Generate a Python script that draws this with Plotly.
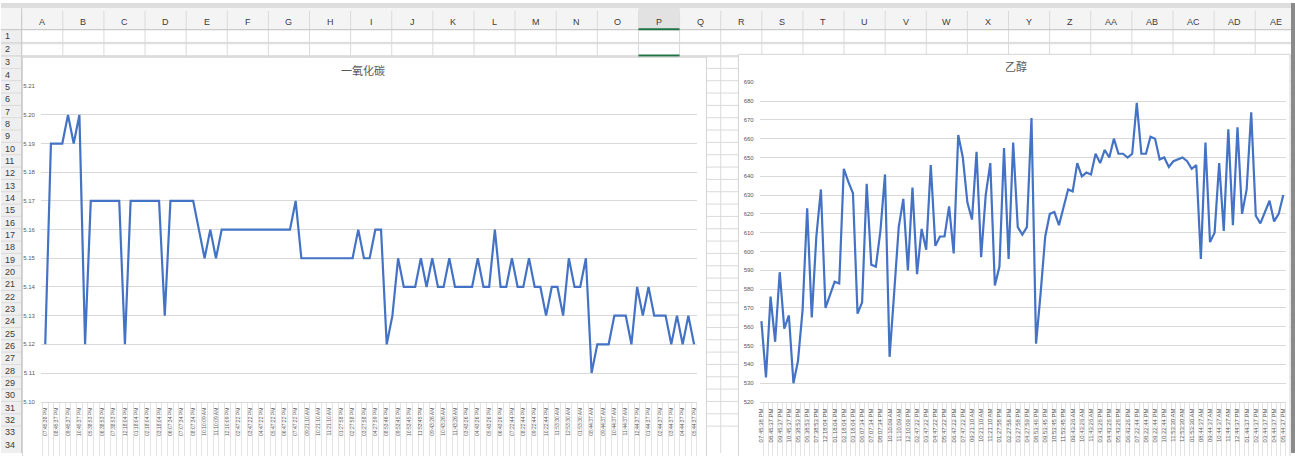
import plotly.graph_objects as go

W, H = 1295, 456

# ---------------- data ----------------
time_labels = [
    "07:45:38 PM", "08:45:37 PM", "09:45:37 PM", "10:45:37 PM", "05:38:53 PM", "06:38:53 PM",
    "07:38:53 PM", "12:18:04 PM", "01:18:04 PM", "02:18:04 PM", "03:18:04 PM", "06:07:34 PM",
    "07:07:34 PM", "08:07:34 PM", "10:10:09 AM", "11:10:09 AM", "12:10:09 PM", "02:47:22 PM",
    "03:47:22 PM", "04:47:22 PM", "05:47:22 PM", "06:47:22 PM", "07:47:22 PM", "09:21:10 AM",
    "10:21:10 AM", "11:21:10 AM", "01:27:58 PM", "02:27:58 PM", "03:27:58 PM", "04:27:59 PM",
    "08:53:46 PM", "09:53:45 PM", "10:53:45 PM", "11:53:45 PM", "09:43:26 AM", "10:43:26 AM",
    "11:43:26 AM", "03:43:26 PM", "04:43:26 PM", "05:43:26 PM", "06:43:26 PM", "07:22:44 PM",
    "08:22:44 PM", "09:22:44 PM", "10:22:44 PM", "11:53:30 AM", "12:53:30 AM", "01:53:30 AM",
    "08:44:37 AM", "09:44:37 AM", "10:44:37 AM", "11:44:37 AM", "12:44:37 PM", "01:44:37 PM",
    "02:44:37 PM", "03:44:37 PM", "04:44:37 PM", "05:44:37 PM",
]

co_values = [
    5.12, 5.19, 5.19, 5.19, 5.20, 5.19, 5.20, 5.12,
    5.17, 5.17, 5.17, 5.17, 5.17, 5.17,
    5.12,
    5.17, 5.17, 5.17, 5.17, 5.17, 5.17,
    5.13,
    5.17, 5.17, 5.17, 5.17, 5.17,
    5.16, 5.15, 5.16, 5.15,
    5.16, 5.16, 5.16, 5.16, 5.16, 5.16, 5.16, 5.16, 5.16, 5.16, 5.16, 5.16, 5.16,
    5.17,
    5.15, 5.15, 5.15, 5.15, 5.15, 5.15, 5.15, 5.15, 5.15, 5.15,
    5.16, 5.15, 5.15, 5.16, 5.16,
    5.12, 5.13, 5.15, 5.14, 5.14, 5.14, 5.15, 5.14, 5.15, 5.14, 5.14, 5.15,
    5.14, 5.14, 5.14, 5.14,
    5.15, 5.14, 5.14, 5.16, 5.14, 5.14, 5.15, 5.14, 5.14, 5.15, 5.14, 5.14,
    5.13, 5.14, 5.14, 5.13, 5.15, 5.14, 5.14, 5.15, 5.11, 5.12, 5.12, 5.12,
    5.13, 5.13, 5.13, 5.12, 5.14, 5.13, 5.14, 5.13, 5.13, 5.13, 5.12, 5.13,
    5.12, 5.13, 5.12,
]

ethanol_values = [
    563, 533, 576, 552, 589, 559, 566, 530, 542, 569,
    623, 565, 608, 633, 570, 577, 584, 583, 644, 637,
    631, 567, 573, 636, 593, 592, 611, 641, 544, 578,
    613, 628, 590, 634, 588, 612, 601, 646, 603, 608,
    608, 624, 599, 662, 650, 626, 617, 653, 597, 630,
    647, 582, 592, 655, 596, 658, 613, 609, 613, 671,
    551, 578, 608, 620, 621, 614, 623, 633, 632, 647,
    640, 642, 641, 652, 647, 654, 650, 660, 652, 652,
    650, 652, 679, 652, 652, 661, 660, 649, 650, 645,
    648, 649, 650, 648, 644, 646, 596, 658, 605, 610,
    647, 611, 665, 614, 666, 620, 633, 674, 619, 615,
    621, 627, 616, 620, 630,
]

co_title = "一氧化碳"
eth_title = "乙醇"
col_letters = ["A", "B", "C", "D", "E", "F", "G", "H", "I", "J", "K", "L", "M", "N", "O", "P",
               "Q", "R", "S", "T", "U", "V", "W", "X", "Y", "Z", "AA", "AB", "AC", "AD", "AE"]
row_numbers = list(range(1, 35))

# ---------------- helpers ----------------
def px(x):
    return x / W

def py(y):
    return 1 - y / H

GRID = "#d9d9d9"
TXT = "#595959"
BLUE = "#4472C4"
LATIN = "Liberation Sans, Arial, sans-serif"
CJK = "Noto Sans CJK SC, sans-serif"

shapes = []
annotations = []

def rect(x0, y0, x1, y1, fill, line=None, lw=1):
    shapes.append(dict(type="rect", xref="paper", yref="paper", layer="below",
                       x0=px(x0), x1=px(x1), y0=py(y1), y1=py(y0),
                       fillcolor=fill, line=dict(color=line or fill, width=lw if line else 0)))

def hline(x0, x1, y, color, w=1):
    shapes.append(dict(type="line", xref="paper", yref="paper", layer="below",
                       x0=px(x0), x1=px(x1), y0=py(y), y1=py(y), line=dict(color=color, width=w)))

def vline(x, y0, y1, color, w=1):
    shapes.append(dict(type="line", xref="paper", yref="paper", layer="below",
                       x0=px(x), x1=px(x), y0=py(y0), y1=py(y1), line=dict(color=color, width=w)))

# ---------------- spreadsheet background ----------------
COL0, COLW = 20.7, 41.15
HEAD_TOP, HEAD_BOT = 5, 27
rect(0, 0, W, HEAD_TOP, "#dedede")
rect(0, HEAD_TOP, W, HEAD_BOT, "#f4f4f4")
rect(0, HEAD_BOT, COL0, H, "#efefef")

row_bounds = [27, 40, 53.5] + [53.75 + (k - 2) * 12.5 for k in range(1, 33)]
for yb in row_bounds:
    hline(0, W, yb, "#dadada")
hline(COL0, W, 54.6, "#dadada")
for j in range(len(col_letters) + 1):
    xb = COL0 + COLW * j
    vline(xb, HEAD_TOP + 3, H, "#dadada")
vline(COL0, HEAD_TOP, H, "#c8c8c8")
hline(0, W, HEAD_BOT, "#c8c8c8")

p_idx = col_letters.index("P")
rect(COL0 + COLW * p_idx, HEAD_TOP, COL0 + COLW * (p_idx + 1), HEAD_BOT, "#e2e2e2")
hline(COL0 + COLW * p_idx, COL0 + COLW * (p_idx + 1), HEAD_BOT - 0.5, "#217346", 2)
hline(COL0 + COLW * p_idx, COL0 + COLW * (p_idx + 1), 53.2, "#217346", 2)

for j, c in enumerate(col_letters):
    annotations.append(dict(xref="paper", yref="paper", x=px(COL0 + COLW * (j + 0.5)), y=py(19),
                            text=c, showarrow=False, xanchor="center", yanchor="middle",
                            font=dict(family=LATIN, size=9, color="#3c3c3c")))
row_centers = [33.5, 46.5] + [60 + (k - 3) * 12.5 for k in range(3, 35)]
for r, yc in zip(row_numbers, row_centers):
    annotations.append(dict(xref="paper", yref="paper", x=px(2), y=py(yc),
                            text=str(r), showarrow=False, xanchor="left", yanchor="middle",
                            font=dict(family=LATIN, size=9, color="#3c3c3c")))

rect(1291, 0, W, H, "#8a8a8a")

rect(21.5, 55, 706, H + 20, "#ffffff", "#d4d4d4", 1)
rect(738, 52, 1290, H + 20, "#ffffff", "#d4d4d4", 1)

# ---------------- traces ----------------
n = len(co_values)
idx = list(range(n))
tick_idx = idx[::2]

fig = go.Figure()
fig.add_trace(go.Scatter(x=idx, y=co_values, mode="lines", line=dict(color=BLUE, width=2.2),
                         xaxis="x", yaxis="y", hoverinfo="skip", showlegend=False))
fig.add_trace(go.Scatter(x=list(range(len(ethanol_values))), y=ethanol_values, mode="lines",
                         line=dict(color=BLUE, width=2.2),
                         xaxis="x2", yaxis="y2", hoverinfo="skip", showlegend=False))

def xaxis_cfg(x0, x1, rng, anchor, fsize):
    return dict(domain=[px(x0), px(x1)], anchor=anchor, range=rng,
                tickmode="array", tickvals=tick_idx, ticktext=time_labels,
                tickangle=-90, tickfont=dict(family=LATIN, size=fsize, color=TXT),
                showgrid=False, zeroline=False, showline=True, linecolor=GRID, linewidth=1,
                ticks="", ticklabelstandoff=3,
                minor=dict(tickmode="array", tickvals=[i - 0.5 for i in range(n + 1)],
                           ticks="outside", ticklen=60, tickcolor="#e4e4e4", tickwidth=1,
                           showgrid=False))

def yaxis_cfg(y0, y1, rng, dtick, fmt, anchor):
    return dict(domain=[py(y0), py(y1)], anchor=anchor, range=rng,
                tickmode="linear", tick0=rng[0], dtick=dtick, tickformat=fmt,
                showgrid=True, gridcolor=GRID, gridwidth=1, zeroline=False, showline=False,
                ticks="", ticklabelstandoff=5,
                tickfont=dict(family=LATIN, size=6, color=TXT))

annotations.append(dict(xref="paper", yref="paper", x=px(362), y=py(68), text=co_title,
                        showarrow=False, xanchor="center", yanchor="middle",
                        font=dict(family=CJK, size=11, color=TXT)))
annotations.append(dict(xref="paper", yref="paper", x=px(1016), y=py(64), text=eth_title,
                        showarrow=False, xanchor="center", yanchor="middle",
                        font=dict(family=CJK, size=11, color=TXT)))

fig.update_layout(
    width=W, height=H, margin=dict(l=0, r=0, t=0, b=0),
    paper_bgcolor="#ffffff", plot_bgcolor="rgba(0,0,0,0)",
    showlegend=False,
    xaxis=xaxis_cfg(40, 697, [-0.75, 114.6], "y", 5),
    yaxis=yaxis_cfg(404, 84, [5.10, 5.2101], 0.01, ".2f", "x"),
    xaxis2=xaxis_cfg(759.3, 1286, [-0.37, 114.6], "y2", 6),
    yaxis2=yaxis_cfg(404.3, 80.3, [520, 690.01], 10, "d", "x2"),
    shapes=shapes, annotations=annotations,
)

fig.write_html("out.html", config={"displayModeBar": False, "staticPlot": True},
               post_script="document.body.style.margin='0px';document.body.style.overflow='hidden';")
